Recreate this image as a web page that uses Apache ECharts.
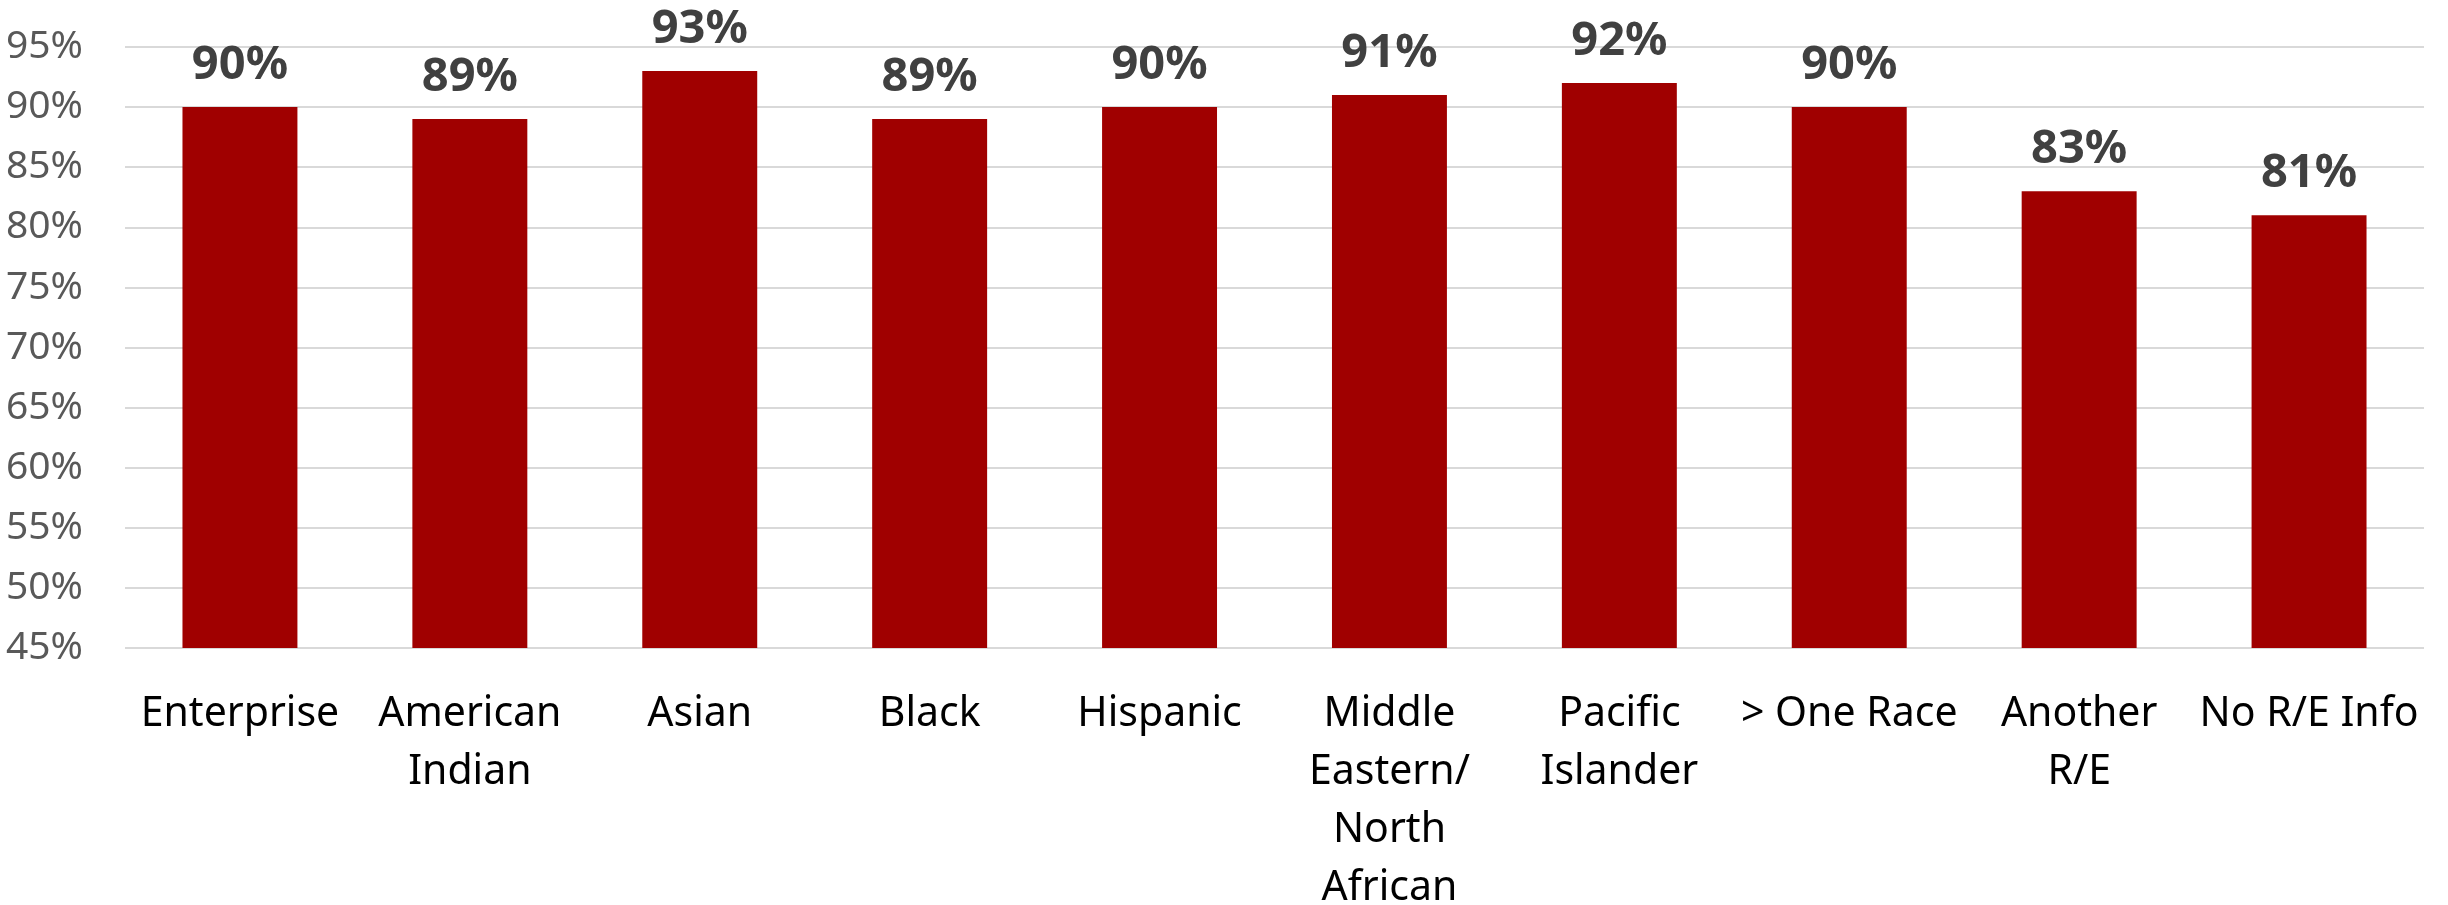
<!DOCTYPE html>
<html>
<head>
<meta charset="utf-8">
<script src="https://cdn.jsdelivr.net/npm/echarts@6/dist/echarts.min.js"></script>
<style>
html,body{margin:0;padding:0;background:#fff;}
#chart{width:2448px;height:905px;}
</style>
</head>
<body>
<div id="chart"></div>
<script>
const categories = ["Enterprise", "American\nIndian", "Asian", "Black", "Hispanic", "Middle\nEastern/\nNorth\nAfrican", "Pacific\nIslander", "> One Race", "Another\nR/E", "No R/E Info"];
const values = [90, 89, 93, 89, 90, 91, 92, 90, 83, 81];
const yMin = 45, yMax = 95, yStep = 5;

const chart = echarts.init(document.getElementById('chart'), null, {renderer: 'canvas'});
chart.setOption({
  animation: false,
  backgroundColor: '#ffffff',
  grid: {left: 125, right: 24, top: 47, bottom: 257, containLabel: false, outerBoundsMode: 'none'},
  xAxis: {
    type: 'category',
    data: categories,
    axisLine: {show: false},
    axisTick: {show: false},
    axisLabel: {
      interval: 0,
      margin: 37,
      color: '#000000',
      fontFamily: 'Noto Sans',
      fontSize: 41,
      lineHeight: 58
    }
  },
  yAxis: {
    type: 'value',
    min: yMin, max: yMax, interval: yStep,
    axisLine: {show: false},
    axisTick: {show: false},
    splitLine: {lineStyle: {color: '#d9d9d9', width: 2}},
    axisLabel: {
      formatter: '{value}%',
      margin: 42,
      color: '#595959',
      fontFamily: 'Noto Sans',
      fontSize: 39
    }
  },
  series: [{
    type: 'bar',
    data: values,
    barWidth: '50%',
    itemStyle: {color: '#a00000'},
    label: {
      show: true,
      position: 'top',
      distance: 18,
      formatter: '{c}%',
      color: '#404040',
      fontFamily: 'Noto Sans',
      fontWeight: 'bold',
      fontSize: 47,
      lineHeight: 47
    }
  }]
});
</script>
</body>
</html>
